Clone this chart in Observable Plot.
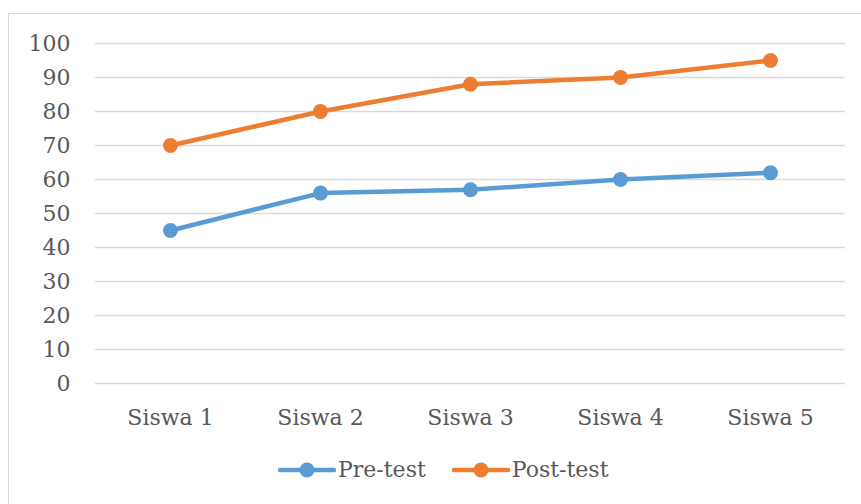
<!DOCTYPE html>
<html>
<head>
<meta charset="utf-8">
<script src="https://cdn.jsdelivr.net/npm/d3@7"></script>
<script src="https://cdn.jsdelivr.net/npm/@observablehq/plot@0.6"></script>
<style>
  body { margin: 0; background: #fff; }
  #wrap { position: relative; width: 861px; height: 504px; overflow: hidden; font-family: "DejaVu Serif", serif; }
  #frame { position: absolute; left: 8px; top: 13px; width: 900px; height: 600px; border: 1.5px solid #d9d9d9; box-sizing: border-box; pointer-events: none; }
  #chart { position: absolute; left: 0; top: 0; }
  #legend { position: absolute; top: 457px; left: 278px; display: flex; align-items: center; font-size: 22px; color: #595959; }
  .item { display: flex; align-items: center; margin-right: 26px; }
  .item svg { margin-right: 2px; }
</style>
</head>
<body>
<div id="wrap">
  <div id="frame"></div>
  <div id="chart"></div>
  <div id="legend"></div>
</div>
<script>
const categories = ["Siswa 1", "Siswa 2", "Siswa 3", "Siswa 4", "Siswa 5"];
const preTest = [45, 56, 57, 60, 62];
const postTest = [70, 80, 88, 90, 95];
const seriesNames = ["Pre-test", "Post-test"];
const seriesColors = ["#5B9BD5", "#ED7D31"];
const yTicks = [0, 10, 20, 30, 40, 50, 60, 70, 80, 90, 100];

const rows = [];
[preTest, postTest].forEach((vals, si) => {
  vals.forEach((v, i) => rows.push({ cat: categories[i], value: v, series: seriesNames[si] }));
});

const chart = Plot.plot({
  width: 861,
  height: 504,
  marginLeft: 95,
  marginRight: 16,
  marginTop: 43,
  marginBottom: 121,
  style: { fontFamily: '"DejaVu Serif", serif', fontSize: "22px", color: "#595959", background: "transparent" },
  x: { type: "band", domain: categories, padding: 0, label: null },
  y: { domain: [0, 100], label: null },
  color: { domain: seriesNames, range: seriesColors },
  marks: [
    Plot.gridY(yTicks, { stroke: "#d9d9d9", strokeOpacity: 1, strokeWidth: 1.5 }),
    Plot.axisY(yTicks, { tickSize: 0, tickPadding: 25, fill: "#595959", fontSize: 22 }),
    Plot.axisX({ tickSize: 0, tickPadding: 26, fill: "#595959", fontSize: 22 }),
    Plot.line(rows, { x: "cat", y: "value", z: "series", stroke: "series", strokeWidth: 4.5, strokeLinecap: "round", strokeLinejoin: "round" }),
    Plot.dot(rows, { x: "cat", y: "value", fill: "series", r: 7.5, stroke: null })
  ]
});
document.getElementById("chart").appendChild(chart);

const legend = document.getElementById("legend");
seriesNames.forEach((name, i) => {
  const item = document.createElement("div");
  item.className = "item";
  item.innerHTML = `<svg width="58" height="16"><line x1="2" y1="8" x2="56" y2="8" stroke="${seriesColors[i]}" stroke-width="4.5" stroke-linecap="round"/><circle cx="29" cy="8" r="7.5" fill="${seriesColors[i]}"/></svg><span>${name}</span>`;
  legend.appendChild(item);
});
</script>
</body>
</html>
